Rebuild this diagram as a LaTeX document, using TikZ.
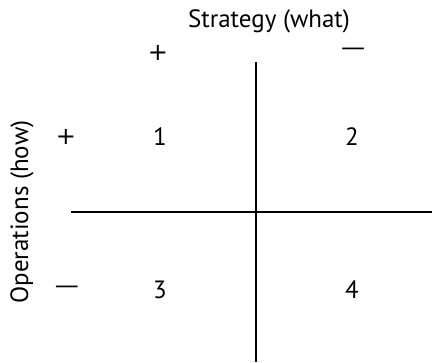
\documentclass[tikz,border=0pt]{standalone}
\usepackage{fontspec}
\setmainfont{PT Sans}
\newfontfamily\signfont{DejaVu Sans}
\usepackage{tikz}
\usetikzlibrary{positioning,calc}

\begin{document}
\begin{tikzpicture}[
    x=1pt, y=-1pt,
    lbl/.style={font=\fontsize{25}{29}\selectfont, inner sep=0pt, anchor=center},
    sign/.style={font=\signfont\fontsize{24}{28}\selectfont, inner sep=0pt, anchor=center},
    axis/.style={line width=1.4pt, color=black}
]
    \useasboundingbox (0,0) rectangle (432,363);

    % Axis titles
    \node[lbl] (strategy)   at (269,21)  {Strategy (what)};
    \node[lbl, rotate=90] (operations) at (22,212) {Operations (how)};

    % Column and row signs
    \node[sign] (colplus)  at (158,53)  {+};
    \node[sign] (colminus) at (353,52)  {—};
    \node[sign] (rowplus)  at (66,137)  {+};
    \node[sign] (rowminus) at (67,290)  {—};

    % Quadrant numbers
    \node[lbl] (q1) at (160,137) {1};
    \node[lbl] (q2) at (352,137) {2};
    \node[lbl] (q3) at (160,290) {3};
    \node[lbl] (q4) at (352,290) {4};

    % Axes
    \coordinate (vtop)   at (256,62);
    \coordinate (vbot)   at (256,362);
    \coordinate (hleft)  at (71,212);
    \coordinate (hright) at (432,212);
    \draw[axis] (vtop)  -- (vbot);
    \draw[axis] (hleft) -- (hright);
\end{tikzpicture}
\end{document}
